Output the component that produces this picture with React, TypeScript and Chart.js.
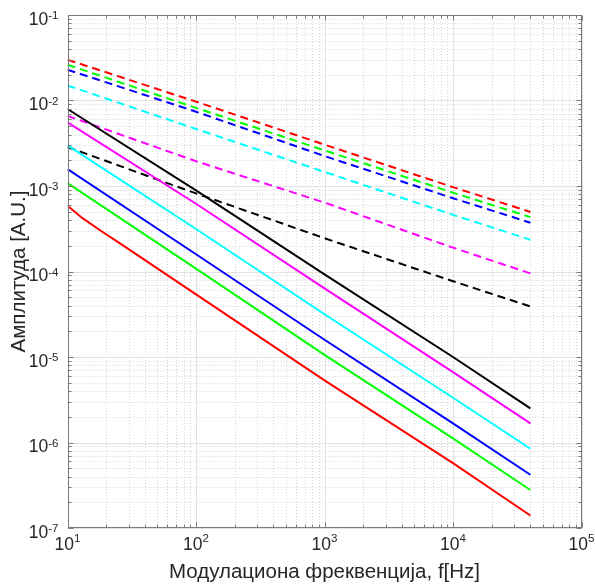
import React, { useEffect, useRef } from 'react';
import { Chart, registerables } from 'chart.js';

Chart.register(...registerables);

// ---- data ----
const FREQ = [10, 100, 1000, 10000, 40000];
const FREQ_RED_SOLID = [10, 13, 18.5, 26.5, 100, 1000, 10000, 40000];
const FREQ_BLACK_DASHED = [10, 50, 100, 1000, 10000, 40000];

const redSolid = [5.89e-4, 4.23e-4, 2.94e-4, 2.06e-4, 5.4e-5, 5.33e-6, 5.75e-7, 1.4e-7];
const greenSolid = [1.08e-3, 1.08e-4, 1.06e-5, 1.12e-6, 2.78e-7];
const blueSolid = [1.58e-3, 1.59e-4, 1.59e-5, 1.67e-6, 4.2e-7];
const cyanSolid = [2.99e-3, 3.14e-4, 3.16e-5, 3.34e-6, 8.45e-7];
const magentaSolid = [5.55e-3, 6.2e-4, 6.35e-5, 6.67e-6, 1.67e-6];
const blackSolid = [7.96e-3, 8.9e-4, 9.25e-5, 1.0e-5, 2.51e-6];

const redDashed = [0.03, 9.7e-3, 3.05e-3, 9.7e-4, 4.97e-4];
const greenDashed = [0.0262, 8.2e-3, 2.61e-3, 8.35e-4, 4.33e-4];
const blueDashed = [0.0229, 7.4e-3, 2.24e-3, 7.2e-4, 3.72e-4];
const cyanDashed = [0.015, 4.65e-3, 1.46e-3, 4.6e-4, 2.35e-4];
const magentaDashed = [6.6e-3, 1.95e-3, 6.4e-4, 1.9e-4, 9.5e-5];
const blackDashed = [2.86e-3, 1.19e-3, 8.2e-4, 2.45e-4, 7.7e-5, 3.9e-5];

const X_TICK_EXPONENTS = [1, 2, 3, 4, 5];
const Y_TICK_EXPONENTS = [-7, -6, -5, -4, -3, -2, -1];

const X_TITLE = 'Модулациона фреквенција, f[Hz]';
const Y_TITLE = 'Амплитуда [A.U.]';

const FONT = '"Liberation Sans", Arial, Helvetica, sans-serif';
const TEXT_COLOR = '#262626';
const AXIS_COLOR = '#7a7a7a';

function pts(xs: number[], ys: number[]) {
  return xs.map((x, i) => ({ x, y: ys[i] }));
}

function minorValues(exps: number[]) {
  const out: number[] = [];
  for (let i = 0; i < exps.length - 1; i++) {
    const base = Math.pow(10, exps[i]);
    for (let k = 2; k <= 9; k++) out.push(k * base);
  }
  return out;
}

const axesPlugin = {
  id: 'matlabAxes',
  beforeDatasetsDraw(chart: any) {
    const { ctx, chartArea: a, scales } = chart;
    const xs = scales.x, ys = scales.y;
    ctx.save();
    ctx.lineWidth = 1;
    // minor grid (dotted)
    ctx.strokeStyle = '#d4d4d4';
    ctx.setLineDash([1, 2]);
    for (const v of minorValues(X_TICK_EXPONENTS)) {
      const p = Math.round(xs.getPixelForValue(v)) + 0.5;
      ctx.beginPath(); ctx.moveTo(p, a.top); ctx.lineTo(p, a.bottom); ctx.stroke();
    }
    for (const v of minorValues(Y_TICK_EXPONENTS)) {
      const p = Math.round(ys.getPixelForValue(v)) + 0.5;
      ctx.beginPath(); ctx.moveTo(a.left, p); ctx.lineTo(a.right, p); ctx.stroke();
    }
    // major grid (solid)
    ctx.setLineDash([]);
    ctx.strokeStyle = '#e2e2e2';
    for (const e of X_TICK_EXPONENTS) {
      const p = Math.round(xs.getPixelForValue(Math.pow(10, e))) + 0.5;
      ctx.beginPath(); ctx.moveTo(p, a.top); ctx.lineTo(p, a.bottom); ctx.stroke();
    }
    for (const e of Y_TICK_EXPONENTS) {
      const p = Math.round(ys.getPixelForValue(Math.pow(10, e))) + 0.5;
      ctx.beginPath(); ctx.moveTo(a.left, p); ctx.lineTo(a.right, p); ctx.stroke();
    }
    ctx.restore();
  },
  afterDatasetsDraw(chart: any) {
    const { ctx, chartArea: a, scales } = chart;
    const xs = scales.x, ys = scales.y;
    ctx.save();
    ctx.lineWidth = 1;
    ctx.strokeStyle = AXIS_COLOR;
    ctx.setLineDash([]);
    const L = Math.round(a.left) + 0.5, R = Math.round(a.right) - 0.5;
    const T = Math.round(a.top) + 0.5, B = Math.round(a.bottom) - 0.5;
    ctx.strokeRect(L, T, R - L, B - T);
    // ticks
    const tickX = (v: number, len: number) => {
      const p = Math.round(xs.getPixelForValue(v)) + 0.5;
      ctx.beginPath();
      ctx.moveTo(p, B); ctx.lineTo(p, B - len);
      ctx.moveTo(p, T); ctx.lineTo(p, T + len);
      ctx.stroke();
    };
    const tickY = (v: number, len: number) => {
      const p = Math.round(ys.getPixelForValue(v)) + 0.5;
      ctx.beginPath();
      ctx.moveTo(L, p); ctx.lineTo(L + len, p);
      ctx.moveTo(R, p); ctx.lineTo(R - len, p);
      ctx.stroke();
    };
    minorValues(X_TICK_EXPONENTS).forEach((v) => tickX(v, 3));
    minorValues(Y_TICK_EXPONENTS).forEach((v) => tickY(v, 3));
    X_TICK_EXPONENTS.forEach((e) => tickX(Math.pow(10, e), 5));
    Y_TICK_EXPONENTS.forEach((e) => tickY(Math.pow(10, e), 5));

    // tick labels 10^n
    ctx.fillStyle = TEXT_COLOR;
    ctx.textBaseline = 'alphabetic';
    const mainFont = `17.5px ${FONT}`;
    const expFont = `11.5px ${FONT}`;
    for (const e of X_TICK_EXPONENTS) {
      const p = xs.getPixelForValue(Math.pow(10, e));
      const es = String(e);
      ctx.font = mainFont; const w1 = ctx.measureText('10').width;
      ctx.font = expFont; const w2 = ctx.measureText(es).width;
      const start = p - (w1 + w2) / 2;
      ctx.textAlign = 'left';
      ctx.font = mainFont; ctx.fillText('10', start, a.bottom + 21.8);
      ctx.font = expFont; ctx.fillText(es, start + w1, a.bottom + 14.3);
    }
    for (const e of Y_TICK_EXPONENTS) {
      const p = ys.getPixelForValue(Math.pow(10, e));
      const es = String(e);
      const right = a.left - 9;
      ctx.font = expFont; const w2 = ctx.measureText(es).width;
      ctx.textAlign = 'right';
      ctx.fillText(es, right, p + 4);
      ctx.font = mainFont; ctx.fillText('10', right - w2, p + 9.7);
    }
    ctx.restore();
  },
};

export default function App() {
  const ref = useRef<HTMLCanvasElement | null>(null);
  useEffect(() => {
    if (!ref.current) return;
    const line = (data: any[], color: string, dashed: boolean) => ({
      data,
      borderColor: color,
      backgroundColor: color,
      borderWidth: 2,
      borderDash: dashed ? [8, 5] : [],
      pointRadius: 0,
      fill: false,
      tension: 0,
    });
    const chart = new Chart(ref.current, {
      type: 'line',
      data: {
        datasets: [
          line(pts(FREQ_RED_SOLID, redSolid), '#ff0000', false),
          line(pts(FREQ, greenSolid), '#00ff00', false),
          line(pts(FREQ, blueSolid), '#0000ff', false),
          line(pts(FREQ, cyanSolid), '#00ffff', false),
          line(pts(FREQ, magentaSolid), '#ff00ff', false),
          line(pts(FREQ, blackSolid), '#000000', false),
          line(pts(FREQ, redDashed), '#ff0000', true),
          line(pts(FREQ, greenDashed), '#00ff00', true),
          line(pts(FREQ, blueDashed), '#0000ff', true),
          line(pts(FREQ, cyanDashed), '#00ffff', true),
          line(pts(FREQ, magentaDashed), '#ff00ff', true),
          line(pts(FREQ_BLACK_DASHED, blackDashed), '#000000', true),
        ] as any,
      },
      options: {
        animation: false,
        responsive: false,
        parsing: false as any,
        layout: { padding: { left: 0, right: 13.5, top: 15, bottom: 0 } },
        plugins: { legend: { display: false }, tooltip: { enabled: false } },
        scales: {
          x: {
            type: 'logarithmic',
            min: 10,
            max: 100000,
            grid: { display: false },
            border: { display: false },
            ticks: { display: false },
            title: {
              display: true,
              text: X_TITLE,
              color: TEXT_COLOR,
              font: { family: FONT, size: 20.5 },
              padding: { top: 0, bottom: 3 },
            },
            afterFit: (s: any) => { s.height = 60; },
          },
          y: {
            type: 'logarithmic',
            min: 1e-7,
            max: 1e-1,
            grid: { display: false },
            border: { display: false },
            ticks: { display: false },
            title: {
              display: true,
              text: Y_TITLE,
              color: TEXT_COLOR,
              font: { family: FONT, size: 20.5 },
              padding: { top: 7, bottom: 0 },
            },
            afterFit: (s: any) => { s.width = 67.5; },
          },
        } as any,
      },
      plugins: [axesPlugin],
    });
    return () => chart.destroy();
  }, []);
  return (
    <div style={{ position: 'absolute', left: 0, top: 0, width: 595, height: 588, background: '#fff' }}>
      <canvas ref={ref} width={595} height={588} style={{ display: 'block' }} />
    </div>
  );
}
